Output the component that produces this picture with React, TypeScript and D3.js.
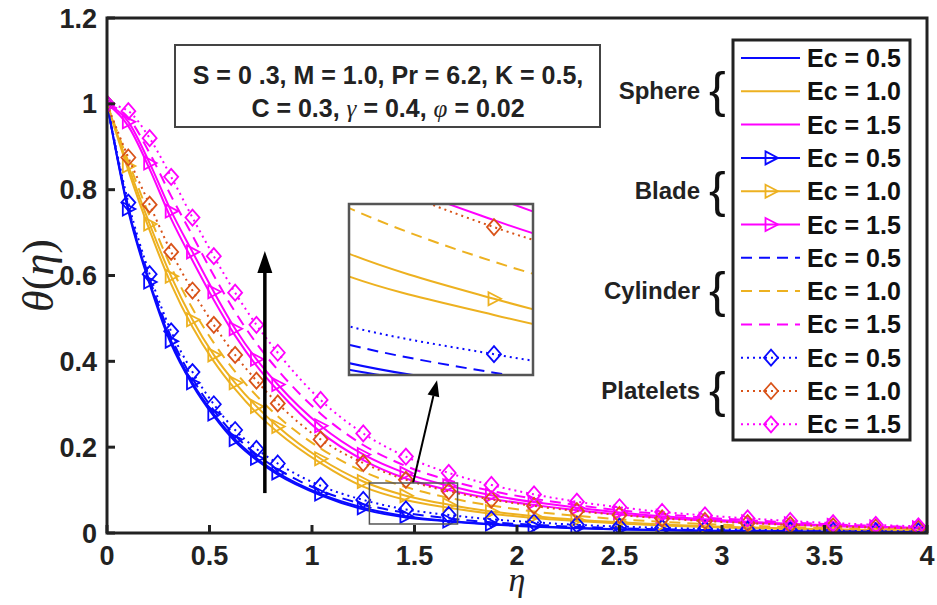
import React from "react";
import * as d3 from "d3";

// similarity variable (mesh points where markers sit)
const eta = [0, 0.104, 0.208, 0.313, 0.417, 0.521, 0.625, 0.729, 0.833, 1.042, 1.25, 1.458, 1.667, 1.875, 2.083, 2.292, 2.5, 2.708, 2.917, 3.125, 3.333, 3.542, 3.75, 3.958, 4.0];

// Ec = 0.5
const sphere05 = [1, 0.75, 0.58, 0.44, 0.345, 0.272, 0.213, 0.17, 0.136, 0.088, 0.055, 0.036, 0.027, 0.02, 0.0145, 0.011, 0.008, 0.0062, 0.005, 0.004, 0.0032, 0.0026, 0.0021, 0.0016, 0.0015];
const blade05 = [1, 0.755, 0.585, 0.447, 0.35, 0.277, 0.218, 0.174, 0.14, 0.091, 0.059, 0.039, 0.028, 0.021, 0.0155, 0.0118, 0.009, 0.007, 0.0055, 0.0045, 0.0036, 0.003, 0.0024, 0.0019, 0.0018];
const cylinder05 = [1, 0.76, 0.592, 0.456, 0.36, 0.286, 0.227, 0.183, 0.149, 0.099, 0.067, 0.047, 0.034, 0.025, 0.019, 0.0145, 0.011, 0.0086, 0.0068, 0.0055, 0.0045, 0.0037, 0.003, 0.0025, 0.0024];
const platelets05 = [1, 0.77, 0.603, 0.47, 0.375, 0.3, 0.24, 0.196, 0.162, 0.11, 0.077, 0.055, 0.042, 0.032, 0.025, 0.019, 0.015, 0.012, 0.0095, 0.0077, 0.0063, 0.0052, 0.0043, 0.0036, 0.0035];
// Ec = 1.0
const sphere10 = [1, 0.845, 0.705, 0.58, 0.48, 0.4, 0.335, 0.28, 0.235, 0.163, 0.108, 0.077, 0.059, 0.045, 0.035, 0.028, 0.022, 0.0175, 0.014, 0.0113, 0.0092, 0.0075, 0.0062, 0.0051, 0.005];
const blade10 = [1, 0.855, 0.72, 0.598, 0.497, 0.415, 0.35, 0.295, 0.248, 0.173, 0.12, 0.087, 0.066, 0.05, 0.039, 0.031, 0.025, 0.02, 0.016, 0.013, 0.0105, 0.0086, 0.0071, 0.0058, 0.0056];
const cylinder10 = [1, 0.866, 0.738, 0.62, 0.523, 0.443, 0.376, 0.32, 0.272, 0.197, 0.143, 0.107, 0.082, 0.064, 0.05, 0.04, 0.032, 0.026, 0.021, 0.017, 0.014, 0.0115, 0.0094, 0.0077, 0.0074];
const platelets10 = [1, 0.875, 0.765, 0.655, 0.565, 0.485, 0.415, 0.355, 0.302, 0.218, 0.163, 0.124, 0.097, 0.078, 0.063, 0.051, 0.042, 0.034, 0.028, 0.023, 0.019, 0.0155, 0.0128, 0.0105, 0.01];
// Ec = 1.5
const sphere15 = [1, 0.948, 0.848, 0.732, 0.635, 0.543, 0.46, 0.39, 0.332, 0.235, 0.17, 0.127, 0.1, 0.08, 0.065, 0.053, 0.043, 0.035, 0.029, 0.024, 0.0195, 0.016, 0.013, 0.0107, 0.0103];
const blade15 = [1, 0.958, 0.862, 0.75, 0.655, 0.562, 0.476, 0.405, 0.346, 0.25, 0.183, 0.139, 0.11, 0.088, 0.072, 0.059, 0.048, 0.039, 0.032, 0.026, 0.0215, 0.0177, 0.0145, 0.012, 0.0115];
const cylinder15 = [1, 0.968, 0.885, 0.785, 0.693, 0.6, 0.515, 0.442, 0.38, 0.278, 0.205, 0.156, 0.123, 0.098, 0.08, 0.065, 0.053, 0.044, 0.036, 0.03, 0.0245, 0.02, 0.0165, 0.0136, 0.013];
const platelets15 = [1, 0.983, 0.92, 0.83, 0.735, 0.645, 0.56, 0.485, 0.42, 0.31, 0.232, 0.178, 0.14, 0.112, 0.09, 0.073, 0.06, 0.049, 0.041, 0.034, 0.028, 0.023, 0.019, 0.0155, 0.015];

const xTicks = [0, 0.5, 1, 1.5, 2, 2.5, 3, 3.5, 4];
const yTicks = [0, 0.2, 0.4, 0.6, 0.8, 1, 1.2];
const groups = ["Sphere", "Blade", "Cylinder", "Platelets"];
const ecLabels = ["Ec = 0.5", "Ec = 1.0", "Ec = 1.5"];

const BLUE = "#0a0aff";
const YELLOW = "#edb120";
const MAGENTA = "#ff00ff";
const ORANGE = "#d95319";

type Style = { color: string; dash: string | null; marker: "tri" | "dia" | null };

const series: { values: number[]; style: Style }[] = [
  { values: sphere05, style: { color: BLUE, dash: null, marker: null } },
  { values: sphere10, style: { color: YELLOW, dash: null, marker: null } },
  { values: sphere15, style: { color: MAGENTA, dash: null, marker: null } },
  { values: blade05, style: { color: BLUE, dash: null, marker: "tri" } },
  { values: blade10, style: { color: YELLOW, dash: null, marker: "tri" } },
  { values: blade15, style: { color: MAGENTA, dash: null, marker: "tri" } },
  { values: cylinder05, style: { color: BLUE, dash: "11 7", marker: null } },
  { values: cylinder10, style: { color: YELLOW, dash: "11 7", marker: null } },
  { values: cylinder15, style: { color: MAGENTA, dash: "11 7", marker: null } },
  { values: platelets05, style: { color: BLUE, dash: "2 4", marker: "dia" } },
  { values: platelets10, style: { color: ORANGE, dash: "2 4", marker: "dia" } },
  { values: platelets15, style: { color: MAGENTA, dash: "2 4", marker: "dia" } },
];

const W = 937;
const H = 605;
const plot = { left: 107, right: 927, top: 18, bottom: 533 };
const inset = { left: 349, right: 533, top: 204, bottom: 375 };
const insetX = [1.47, 1.72];
const insetY = [0.033, 0.107];
const zoomBox = { x0: 1.28, x1: 1.71, y0: 0.021, y1: 0.1165 };

const FONT = "'Liberation Sans', Arial, sans-serif";
const SERIF = "'Liberation Serif', 'Times New Roman', serif";

const triPath = "M-5.5,-6.5L7,0L-5.5,6.5Z";
const diaPath = "M0,-8L7,0L0,8L-7,0Z";

function Marker({ kind, cx, cy, color }: { kind: "tri" | "dia" | null; cx: number; cy: number; color: string }) {
  if (!kind) return null;
  return (
    <path
      d={kind === "tri" ? triPath : diaPath}
      transform={`translate(${cx},${cy})`}
      fill="none"
      stroke={color}
      strokeWidth={1.8}
    />
  );
}

function Curves({ sx, sy, clip, lw }: { sx: d3.ScaleLinear<number, number>; sy: d3.ScaleLinear<number, number>; clip: string; lw: number }) {
  return (
    <g clipPath={`url(#${clip})`}>
      {series.map((s, i) => {
        const pts = eta.map((e, k) => [e, s.values[k]] as [number, number]);
        const line = d3
          .line<[number, number]>()
          .x((d) => sx(d[0]))
          .y((d) => sy(d[1]))
          .curve(d3.curveMonotoneX);
        return (
          <g key={i}>
            <path
              d={line(pts) || ""}
              fill="none"
              stroke={s.style.color}
              strokeWidth={lw}
              strokeDasharray={s.style.dash || undefined}
            />
            {s.style.marker &&
              pts.slice(0, -1).map((p, k) => (
                <Marker key={k} kind={s.style.marker} cx={sx(p[0])} cy={sy(p[1])} color={s.style.color} />
              ))}
          </g>
        );
      })}
    </g>
  );
}

export default function App() {
  const x = d3.scaleLinear().domain([0, 4]).range([plot.left, plot.right]);
  const y = d3.scaleLinear().domain([0, 1.2]).range([plot.bottom, plot.top]);
  const xi = d3.scaleLinear().domain(insetX).range([inset.left, inset.right]);
  const yi = d3.scaleLinear().domain(insetY).range([inset.bottom, inset.top]);

  const legend = { x: 733, y: 40, w: 177, h: 400, row: 33.3 };
  const bigArrow = { eta: 0.77, from: 0.093, to: 0.657 };
  const smallArrow = { x0: 1.493, y0: 0.1165, x1: 1.61, y1: 0.356 };

  return (
    <svg width={W} height={H} style={{ position: "absolute", left: 0, top: 0, background: "#fff" }}>
      <style>{`body{margin:0}`}</style>
      <defs>
        <clipPath id="mainClip">
          <rect x={plot.left} y={plot.top} width={plot.right - plot.left} height={plot.bottom - plot.top} />
        </clipPath>
        <clipPath id="insetClip">
          <rect x={inset.left} y={inset.top} width={inset.right - inset.left} height={inset.bottom - inset.top} />
        </clipPath>
      </defs>
      <rect width={W} height={H} fill="#fff" />

      <Curves sx={x} sy={y} clip="mainClip" lw={2} />

      {/* axes box */}
      <rect
        x={plot.left}
        y={plot.top}
        width={plot.right - plot.left}
        height={plot.bottom - plot.top}
        fill="none"
        stroke="#222"
        strokeWidth={3}
      />
      {xTicks.map((t) => (
        <g key={"x" + t}>
          <line x1={x(t)} x2={x(t)} y1={plot.bottom} y2={plot.bottom - 8} stroke="#222" strokeWidth={3} />
          <text
            x={x(t)}
            y={565}
            textAnchor="middle"
            fontFamily={FONT}
            fontWeight="bold"
            fontSize={27}
            fill="#222"
          >
            {String(t)}
          </text>
        </g>
      ))}
      {yTicks.map((t) => (
        <g key={"y" + t}>
          <line x1={plot.left} x2={plot.left + 8} y1={y(t)} y2={y(t)} stroke="#222" strokeWidth={3} />
          <text
            x={97}
            y={y(t) + 9.5}
            textAnchor="end"
            fontFamily={FONT}
            fontWeight="bold"
            fontSize={27}
            fill="#222"
          >
            {String(t)}
          </text>
        </g>
      ))}

      {/* axis labels */}
      <text
        x={(plot.left + plot.right) / 2}
        y={591}
        textAnchor="middle"
        fontFamily={SERIF}
        fontStyle="italic"
        fontSize={34}
        fill="#222"
      >
        η
      </text>
      <text
        transform={`translate(53,${(plot.top + plot.bottom) / 2}) rotate(-90)`}
        textAnchor="middle"
        fontFamily={SERIF}
        fontSize={44}
        fill="#222"
      >
        <tspan fontStyle="italic">θ</tspan>(<tspan fontStyle="italic">η</tspan>)
      </text>

      {/* parameter box */}
      <rect x={175} y={45} width={425} height={82} fill="#fff" stroke="#444" strokeWidth={2} />
      <text x={388} y={84} textAnchor="middle" fontFamily={FONT} fontWeight="bold" fontSize={25} fill="#222">
        S = 0 .3, M = 1.0, Pr = 6.2, K = 0.5,
      </text>
      <text x={388} y={117} textAnchor="middle" fontFamily={FONT} fontWeight="bold" fontSize={25} fill="#222">
        C = 0.3, <tspan fontFamily={SERIF} fontStyle="italic" fontWeight="normal">γ</tspan> = 0.4,{" "}
        <tspan fontFamily={SERIF} fontStyle="italic" fontWeight="normal">φ</tspan> = 0.02
      </text>

      {/* arrows */}
      <line x1={x(bigArrow.eta)} x2={x(bigArrow.eta)} y1={y(bigArrow.from)} y2={y(bigArrow.to) + 18} stroke="#000" strokeWidth={3.5} />
      <path
        d={`M${x(bigArrow.eta)},${y(bigArrow.to)}l-7.5,22l15,0Z`}
        fill="#000"
      />
      {(() => {
        const x0 = x(smallArrow.x0);
        const y0 = y(smallArrow.y0);
        const x1 = x(smallArrow.x1);
        const y1 = y(smallArrow.y1);
        const a = Math.atan2(y1 - y0, x1 - x0);
        const L = 16;
        const hw = 6;
        const bx = x1 - L * Math.cos(a);
        const by = y1 - L * Math.sin(a);
        const px = -Math.sin(a) * hw;
        const py = Math.cos(a) * hw;
        return (
          <g>
            <line x1={x0} y1={y0} x2={bx} y2={by} stroke="#000" strokeWidth={2} />
            <path d={`M${x1},${y1}L${bx + px},${by + py}L${bx - px},${by - py}Z`} fill="#000" />
          </g>
        );
      })()}

      {/* zoom rectangle */}
      <rect
        x={x(zoomBox.x0)}
        y={y(zoomBox.y1)}
        width={x(zoomBox.x1) - x(zoomBox.x0)}
        height={y(zoomBox.y0) - y(zoomBox.y1)}
        fill="none"
        stroke="#555"
        strokeWidth={1.5}
      />

      {/* inset */}
      <rect
        x={inset.left}
        y={inset.top}
        width={inset.right - inset.left}
        height={inset.bottom - inset.top}
        fill="#fff"
      />
      <Curves sx={xi} sy={yi} clip="insetClip" lw={2} />
      <rect
        x={inset.left}
        y={inset.top}
        width={inset.right - inset.left}
        height={inset.bottom - inset.top}
        fill="none"
        stroke="#555"
        strokeWidth={2.5}
      />

      {/* legend */}
      <rect x={legend.x} y={legend.y} width={legend.w} height={legend.h} fill="#fff" stroke="#222" strokeWidth={3} />
      {series.map((s, i) => {
        const cy = legend.y + 18 + i * legend.row;
        return (
          <g key={"lg" + i}>
            <line
              x1={legend.x + 8}
              x2={legend.x + 67}
              y1={cy}
              y2={cy}
              stroke={s.style.color}
              strokeWidth={2}
              strokeDasharray={s.style.dash || undefined}
            />
            <Marker kind={s.style.marker} cx={legend.x + 38} cy={cy} color={s.style.color} />
            <text
              x={legend.x + 74}
              y={cy + 9}
              fontFamily={FONT}
              fontWeight="bold"
              fontSize={25}
              fill="#111"
            >
              {ecLabels[i % 3]}
            </text>
          </g>
        );
      })}

      {/* group labels with braces */}
      {groups.map((g, gi) => {
        const cy = legend.y + 18 + (gi * 3 + 1) * legend.row;
        return (
          <g key={g}>
            <text x={700} y={cy + 8} textAnchor="end" fontFamily={FONT} fontWeight="bold" fontSize={24} fill="#222">
              {g}
            </text>
            <text x={709} y={cy + 16} fontFamily={FONT} fontSize={50} fill="#111">
              {"{"}
            </text>
          </g>
        );
      })}
    </svg>
  );
}
